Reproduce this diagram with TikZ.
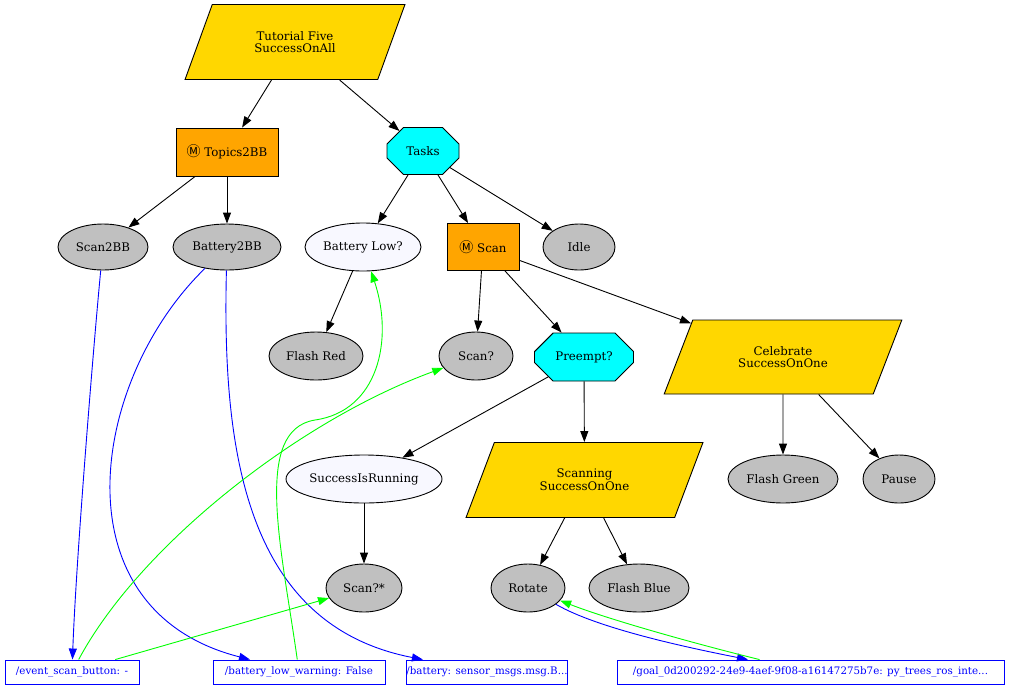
\documentclass[tikz,border=0pt]{standalone}
\usepackage{fontspec}
\setmainfont{DejaVu Serif}
\newfontfamily\symf{Noto Sans CJK SC}
\newcommand{\circm}{{\symf\fontsize{14}{12}\selectfont Ⓜ}}
\usetikzlibrary{shapes.geometric,shapes.misc,arrows.meta}
\definecolor{gold}{HTML}{FFD700}
\definecolor{orng}{HTML}{FFA500}
\definecolor{cyn}{HTML}{00FFFF}
\definecolor{silv}{HTML}{C0C0C0}
\definecolor{ghost}{HTML}{F8F8FF}
\definecolor{gbl}{HTML}{0000FF}
\definecolor{ggr}{HTML}{00FF00}
\begin{document}
\begin{tikzpicture}[x=1pt,y=-1pt,
  font=\fontsize{11.8}{12.7}\selectfont,
  line width=0.9pt,
  >={Triangle[length=11pt,width=8pt]},
  base/.style={draw=black, inner sep=0pt, align=center},
  para/.style={base, fill=gold, trapezium, trapezium left angle=57, trapezium right angle=123, trapezium stretches=true},
  seqbox/.style={base, fill=orng, rectangle},
  octa/.style={base, fill=cyn, chamfered rectangle},
  leaf/.style={base, fill=silv, ellipse},
  cond/.style={base, fill=ghost, ellipse},
  bbvar/.style={draw=gbl, text=gbl, fill=white, rectangle, inner sep=0pt, font=\fontsize{10.3}{12}\selectfont},
  edge/.style={->, black},
  wr/.style={->, gbl},
  rd/.style={->, ggr}
]
\useasboundingbox (0,0) rectangle (1009,689);
\fill[white] (0,0) rectangle (1009,689);

\node[para, minimum width=220, minimum height=75, trapezium left angle=58.5, trapezium right angle=121.5] (root) at (295,42) {Tutorial Five\\SuccessOnAll};
\node[seqbox, minimum width=102, minimum height=48] (topics) at (227,152) {\circm{} Topics2BB};
\node[octa, minimum width=72, minimum height=47, chamfered rectangle xsep=18pt, chamfered rectangle ysep=12pt] (tasks) at (423,151) {Tasks};
\node[leaf, minimum width=90, minimum height=46] (scanbb) at (103,247) {Scan2BB};
\node[leaf, minimum width=108, minimum height=46] (batbb) at (227,247) {Battery2BB};
\node[cond, minimum width=116, minimum height=48] (batlow) at (363,247) {Battery Low?};
\node[seqbox, minimum width=72, minimum height=47] (scan) at (483,247) {\circm{} Scan};
\node[leaf, minimum width=72, minimum height=46] (idle) at (579,247) {Idle};
\node[leaf, minimum width=94, minimum height=48] (flashred) at (316,356) {Flash Red};
\node[leaf, minimum width=74, minimum height=48] (scanq) at (476,356) {Scan?};
\node[octa, minimum width=99, minimum height=48, chamfered rectangle xsep=26pt, chamfered rectangle ysep=13pt] (preempt) at (584,357) {Preempt?};
\node[para, minimum width=238, minimum height=74] (celeb) at (783,357) {Celebrate\\SuccessOnOne};
\node[cond, minimum width=156, minimum height=48] (sir) at (364,479) {SuccessIsRunning};
\node[para, minimum width=237, minimum height=75] (scanning) at (584.5,480) {Scanning\\SuccessOnOne};
\node[leaf, minimum width=110, minimum height=48] (flashgreen) at (783,479) {Flash Green};
\node[leaf, minimum width=72, minimum height=48] (pause) at (899,479) {Pause};
\node[leaf, minimum width=76, minimum height=48] (scanstar) at (364,588) {Scan?*};
\node[leaf, minimum width=74, minimum height=48] (rotate) at (528,588) {Rotate};
\node[leaf, minimum width=100, minimum height=48] (flashblue) at (639,588) {Flash Blue};

\node[bbvar, minimum width=134, minimum height=24] (evt) at (72,672) {/event\_scan\_button: -};
\node[bbvar, minimum width=172, minimum height=24] (blw) at (299,672) {/battery\_low\_warning: False};
\node[bbvar, minimum width=157, minimum height=24] (bat) at (487,672) {/battery: sensor\_msgs.msg.B...};
\node[bbvar, minimum width=387, minimum height=24] (goal) at (810.5,672) {/goal\_0d200292-24e9-4aef-9f08-a16147275b7e: py\_trees\_ros\_inte...};

% tree edges
\draw[edge] (root) -- (topics);
\draw[edge] (root) -- (tasks);
\draw[edge] (topics) -- (scanbb);
\draw[edge] (topics) -- (batbb);
\draw[edge] (tasks) -- (batlow);
\draw[edge] (tasks) -- (scan);
\draw[edge] (tasks) -- (idle);
\draw[edge] (batlow) -- (flashred);
\draw[edge] (scan) -- (scanq);
\draw[edge] (scan) -- (preempt);
\draw[edge] (scan) -- (celeb);
\draw[edge] (preempt) -- (sir);
\draw[edge] (preempt) -- (scanning);
\draw[edge] (sir) -- (scanstar);
\draw[edge] (scanning) -- (rotate);
\draw[edge] (scanning) -- (flashblue);
\draw[edge] (celeb) -- (flashgreen);
\draw[edge] (celeb) -- (pause);

% blackboard writes
\draw[wr] (scanbb) .. controls (94,340) and (76,560) .. (evt);
\draw[wr] (batbb) .. controls (90,380) and (55,610) .. (blw);
\draw[wr] (batbb) .. controls (222,450) and (245,625) .. (bat);
\draw[wr] (rotate) .. controls (600,630) and (700,650) .. (goal);

% blackboard reads
\draw[rd] (blw) .. controls (282,550) and (252,430) .. (315,420) .. controls (378,411) and (394,340) .. (batlow);
\draw[rd] (evt) .. controls (140,545) and (300,420) .. (scanq);
\draw[rd] (evt) -- (scanstar);
\draw[rd] (goal) .. controls (700,645) and (610,620) .. (rotate);
\end{tikzpicture}
\end{document}
